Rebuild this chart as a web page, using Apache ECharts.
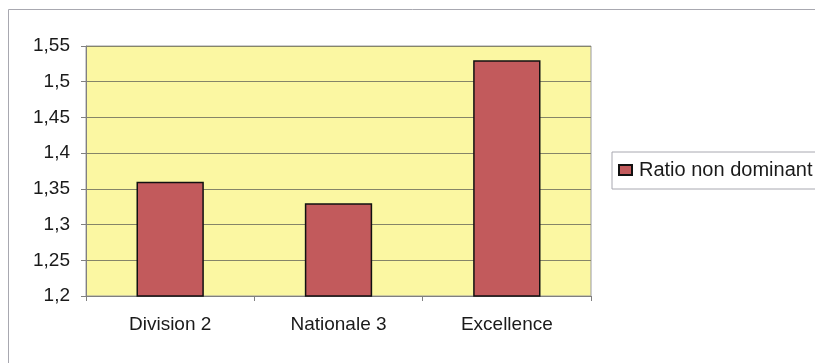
<!DOCTYPE html>
<html>
<head>
<meta charset="utf-8">
<script src="https://cdn.jsdelivr.net/npm/echarts@6/dist/echarts.min.js"></script>
<style>
  html, body { margin: 0; padding: 0; background: #ffffff; }
  #chart { width: 815px; height: 363px; }
</style>
</head>
<body>
<div id="chart"></div>
<script>
// Categories and ratio values
const categories = ['Division 2', 'Nationale 3', 'Excellence'];
const ratioValues = [1.36, 1.33, 1.53];
const seriesName = 'Ratio non dominant';

const fontFamily = '"Liberation Sans", Arial, sans-serif';
const fmt = v => parseFloat(v.toFixed(2)).toString().replace('.', ',');

const chart = echarts.init(document.getElementById('chart'), null, { renderer: 'canvas' });
chart.setOption({
  animation: false,
  backgroundColor: '#ffffff',
  textStyle: { fontFamily: fontFamily },
  graphic: [
    {
      // outer chart-area frame (runs off the right and bottom edges)
      type: 'rect',
      shape: { x: 8.5, y: 9.5, width: 900, height: 500 },
      style: { fill: 'none', stroke: '#a8a8b0', lineWidth: 1 },
      z: -1
    }
  ],
  grid: {
    left: 86, top: 46, right: 224, bottom: 67,
    show: true,
    backgroundColor: '#fbf7a2',
    borderColor: '#9a9aa0',
    borderWidth: 1
  },
  legend: {
    left: 612, top: 152,
    padding: [8, 6, 9, 6],
    borderColor: '#a8a8b0',
    borderWidth: 1,
    backgroundColor: '#ffffff',
    icon: 'rect',
    itemWidth: 13, itemHeight: 10, itemGap: 6,
    textStyle: { fontSize: 20, color: '#1a1a1a', fontFamily: fontFamily, padding: [0, 0, 0, 2] },
    data: [seriesName]
  },
  xAxis: {
    type: 'category',
    data: categories,
    axisLine: { lineStyle: { color: '#808080', width: 1 } },
    axisTick: { show: true, length: 5, lineStyle: { color: '#808080' } },
    axisLabel: { margin: 19, fontSize: 19, color: '#1a1a1a', fontFamily: fontFamily },
    splitLine: { show: false }
  },
  yAxis: {
    type: 'value',
    min: 1.2, max: 1.55, interval: 0.05,
    axisLine: { show: true, lineStyle: { color: '#808080', width: 1 } },
    axisTick: { show: true, length: 5, lineStyle: { color: '#808080' } },
    axisLabel: { margin: 16, fontSize: 19, color: '#1a1a1a', fontFamily: fontFamily, formatter: fmt },
    splitLine: { show: true, lineStyle: { color: '#858568', width: 1 } }
  },
  series: [
    {
      name: seriesName,
      type: 'bar',
      data: ratioValues,
      barWidth: '40%',
      itemStyle: { color: '#c25a5c', borderColor: '#111111', borderWidth: 1.5 }
    }
  ]
});
</script>
</body>
</html>
